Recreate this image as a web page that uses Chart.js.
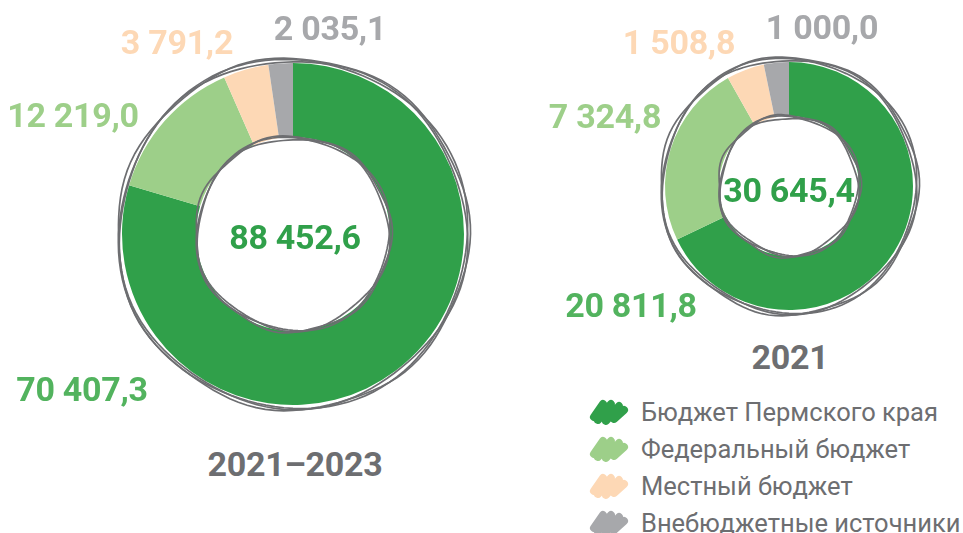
<!DOCTYPE html>
<html>
<head>
<meta charset="utf-8">
<script src="https://cdn.jsdelivr.net/npm/chart.js@4"></script>
<style>
  body { margin: 0; background: #fff; width: 963px; height: 533px; position: relative; overflow: hidden; font-family: Roboto, sans-serif; }
  canvas { position: absolute; }
  .lbl { position: absolute; transform: translate(-50%, -50%); line-height: 1; font-weight: 700; font-size: 34px; white-space: nowrap; letter-spacing: -0.3px; }
  .legend { position: absolute; left: 588px; top: 393px; }
  .legend div { height: 37px; display: flex; align-items: center; font-size: 25.5px; color: #6d6e71; }
  .legend svg { margin-right: 11px; }
</style>
</head>
<body>
<canvas id="c1" width="400" height="400" style="left:93px;top:34px"></canvas>
<canvas id="c2" width="300" height="300" style="left:639px;top:36px"></canvas>
<div id="labels"></div>
<div class="legend" id="legend"></div>
<script>
const sources = ['Бюджет Пермского края', 'Федеральный бюджет', 'Местный бюджет', 'Внебюджетные источники'];
const total2021_2023 = [70407.3, 12219.0, 3791.2, 2035.1];
const total2021 = [20811.8, 7324.8, 1508.8, 1000.0];
const periods = ['2021–2023', '2021'];

const colors = ['#30a04a', '#9dcf89', '#fdd8b5', '#a7a8ab'];
const labelColors = ['#52b35e', '#9dcf89', '#fdd8b5', '#a7a8ab'];

function fmt(v) {
    const parts = v.toFixed(1).split('.');
    return parts[0].replace(/\B(?=(\d{3})+(?!\d))/g, ' ') + ',' + parts[1];
}

// hand-drawn rings around the doughnut
const sketch = {
    id: 'sketch',
    afterDatasetsDraw(chart) {
        const arc = chart.getDatasetMeta(0).data[0];
        const ctx = chart.ctx;
        const passes = [[3, 2.0, 5, 0.3], [5, 1.6, 7, 1.9], [4, 2.2, 4, 3.4]];
        ctx.save();
        ctx.strokeStyle = '#6d6e71';
        ctx.lineWidth = 1.7;
        [arc.outerRadius, arc.innerRadius].forEach((r, j) => {
            passes.forEach(p => {
                const base = j === 0 ? r + p[0] : r + p[0] - 4;
                ctx.beginPath();
                for (let i = 0; i <= 120; i++) {
                    const t = i / 120 * Math.PI * 2;
                    const rr = base + p[1] * Math.sin(p[2] * t + p[3]);
                    const x = arc.x + rr * Math.cos(t), y = arc.y + rr * Math.sin(t);
                    i ? ctx.lineTo(x, y) : ctx.moveTo(x, y);
                }
                ctx.closePath();
                ctx.stroke();
            });
        });
        ctx.restore();
    }
};

function ring(id, values, radius, cutout) {
    new Chart(document.getElementById(id), {
        type: 'doughnut',
        data: {
            labels: sources,
            datasets: [{
                data: values,
                backgroundColor: colors,
                borderWidth: 0,
                hoverOffset: 0,
                radius: radius,
                cutout: cutout
            }]
        },
        options: {
            responsive: false,
            animation: false,
            events: [],
            layout: { padding: 0 },
            plugins: { legend: { display: false }, tooltip: { enabled: false } }
        },
        plugins: [sketch]
    });
}

ring('c1', total2021_2023, 171, '56.7%');
ring('c2', total2021, 124, '56.5%');

// value labels
const sum = a => a.reduce((s, v) => s + v, 0);
const place = [
    { values: total2021_2023, pos: [[82, 389], [73, 115], [177, 42], [330, 28]], center: [295, 237], title: [295, 464] },
    { values: total2021, pos: [[631, 305], [605, 116], [679, 42], [822, 27]], center: [789, 190], title: [790, 357] }
];
const box = document.getElementById('labels');
function addLabel(text, x, y, color) {
    const d = document.createElement('div');
    d.className = 'lbl';
    d.textContent = text;
    d.style.left = x + 'px';
    d.style.top = y + 'px';
    d.style.color = color;
    box.appendChild(d);
}
place.forEach((p, k) => {
    p.values.forEach((v, i) => addLabel(fmt(v), p.pos[i][0], p.pos[i][1], labelColors[i]));
    addLabel(fmt(sum(p.values)), p.center[0], p.center[1], colors[0]);
    addLabel(periods[k], p.title[0], p.title[1], '#6d6e71');
});

// legend with brush marks
const legend = document.getElementById('legend');
sources.forEach((s, i) => {
    const row = document.createElement('div');
    row.innerHTML = '<svg width="42" height="28" viewBox="0 0 42 28">' +
        '<path d="M6 19 L15 6 L10 22 L23 6 L18 23 L31 8 L26 21 L36 12" fill="none" stroke="' + colors[i] +
        '" stroke-width="8" stroke-linecap="round" stroke-linejoin="round"/></svg><span>' + s + '</span>';
    legend.appendChild(row);
});
</script>
</body>
</html>
